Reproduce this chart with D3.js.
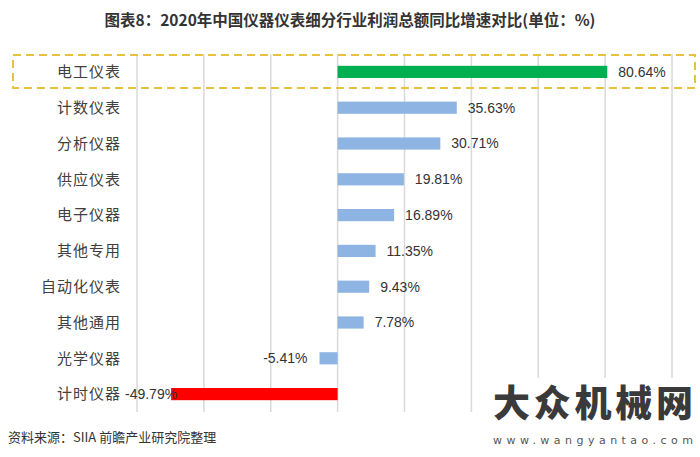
<!DOCTYPE html>
<html>
<head>
<meta charset="utf-8">
<script src="https://cdn.jsdelivr.net/npm/d3@7"></script>
<style>
body { margin: 0; background: #fff; }
</style>
</head>
<body>
<div id="chart"></div>
<script>
var categories = ["电工仪表", "计数仪表", "分析仪器", "供应仪表", "电子仪器", "其他专用", "自动化仪表", "其他通用", "光学仪器", "计时仪器"];
var values = [80.64, 35.63, 30.71, 19.81, 16.89, 11.35, 9.43, 7.78, -5.41, -49.79];
var gridTicks = [-60, -40, -20, 0, 20, 40, 60, 80, 100];

function init(){
	var w = 700;
	var h = 457;
	var cjk = "'Noto Sans CJK SC', sans-serif";
	var num = "'Liberation Sans', Arial, sans-serif";

	var svg = d3.select("#chart")
		.append("svg")
		.attr("width", w)
		.attr("height", h);

	var xScale = d3.scaleLinear()
		.domain([-60, 100])
		.range([137, 672]);

	var yScale = d3.scaleBand()
		.domain(categories)
		.range([54, 412])
		.paddingInner(0.66)
		.paddingOuter(0.33);

	// title
	svg.append("text")
		.attr("x", 350)
		.attr("y", 26)
		.attr("text-anchor", "middle")
		.attr("font-family", cjk)
		.attr("font-weight", "bold")
		.attr("font-size", 15.5)
		.attr("fill", "#333")
		.text("图表8：2020年中国仪器仪表细分行业利润总额同比增速对比(单位：%)");

	// gridlines
	svg.selectAll("line.grid")
		.data(gridTicks)
		.enter()
		.append("line")
		.attr("class", "grid")
		.attr("x1", function(d){ return xScale(d); })
		.attr("x2", function(d){ return xScale(d); })
		.attr("y1", 54)
		.attr("y2", 412)
		.attr("stroke", "#d9d9d9")
		.attr("stroke-width", 1.5);

	// bars
	svg.selectAll("rect.bar")
		.data(values)
		.enter()
		.append("rect")
		.attr("class", "bar")
		.attr("x", function(d){ return xScale(Math.min(0, d)); })
		.attr("y", function(d, i){ return yScale(categories[i]); })
		.attr("width", function(d){ return Math.abs(xScale(d) - xScale(0)); })
		.attr("height", yScale.bandwidth())
		.attr("fill", function(d, i){
			if(i == 0){
				return "#00b050";
			}else if(d < -20){
				return "#ff0000";
			}else{
				return "#8db4e2";
			}
		});

	// category labels
	svg.selectAll("text.cat")
		.data(categories)
		.enter()
		.append("text")
		.attr("class", "cat")
		.attr("x", 121)
		.attr("y", function(d){ return yScale(d) + yScale.bandwidth() / 2; })
		.attr("dy", "0.35em")
		.attr("text-anchor", "end")
		.attr("font-family", cjk)
		.attr("font-size", 15)
		.attr("letter-spacing", 1)
		.attr("fill", "#404040")
		.text(function(d){ return d; });

	// value labels
	var labels = svg.selectAll("text.val")
		.data(values)
		.enter()
		.append("text")
		.attr("class", "val")
		.attr("y", function(d, i){ return yScale(categories[i]) + yScale.bandwidth() / 2; })
		.attr("dy", "0.35em")
		.attr("font-family", num)
		.attr("font-size", 14)
		.attr("fill", "#333")
		.text(function(d){ return d.toFixed(2) + "%"; });

	labels.each(function(d){
		var t = d3.select(this);
		if(d >= 0){
			t.attr("x", xScale(d) + 11).attr("text-anchor", "start");
		}else{
			var len = this.getComputedTextLength();
			var x = xScale(d) - 12 - len;
			if(x < 125) x = 125;
			t.attr("x", x).attr("text-anchor", "start");
		}
	});

	// highlight box
	var y0 = yScale(categories[0]) + yScale.bandwidth() / 2;
	svg.append("rect")
		.attr("x", 13)
		.attr("y", y0 - 17)
		.attr("width", 682)
		.attr("height", 33)
		.attr("fill", "none")
		.attr("stroke", "#e8c23c")
		.attr("stroke-width", 2)
		.attr("stroke-dasharray", "8,5");

	// source
	svg.append("text")
		.attr("x", 8)
		.attr("y", 442)
		.attr("font-family", cjk)
		.attr("font-size", 13)
		.attr("fill", "#333")
		.text("资料来源：SIIA 前瞻产业研究院整理");

	// site watermark
	svg.append("rect")
		.attr("x", 486)
		.attr("y", 378)
		.attr("width", 214)
		.attr("height", 79)
		.attr("fill", "#fff");

	svg.append("text")
		.attr("x", 493)
		.attr("y", 404)
		.attr("dy", "0.35em")
		.attr("font-family", cjk)
		.attr("font-weight", 900)
		.attr("font-size", 37)
		.attr("textLength", 200)
		.attr("fill", "#3a3a3a")
		.text("大众机械网");

	svg.append("text")
		.attr("x", 493)
		.attr("y", 444)
		.attr("font-family", "'DejaVu Sans', sans-serif")
		.attr("font-size", 11)
		.attr("textLength", 200)
		.attr("lengthAdjust", "spacing")
		.attr("fill", "#555")
		.text("www.wangyantao.com");
}

window.onload = init;
</script>
</body>
</html>
